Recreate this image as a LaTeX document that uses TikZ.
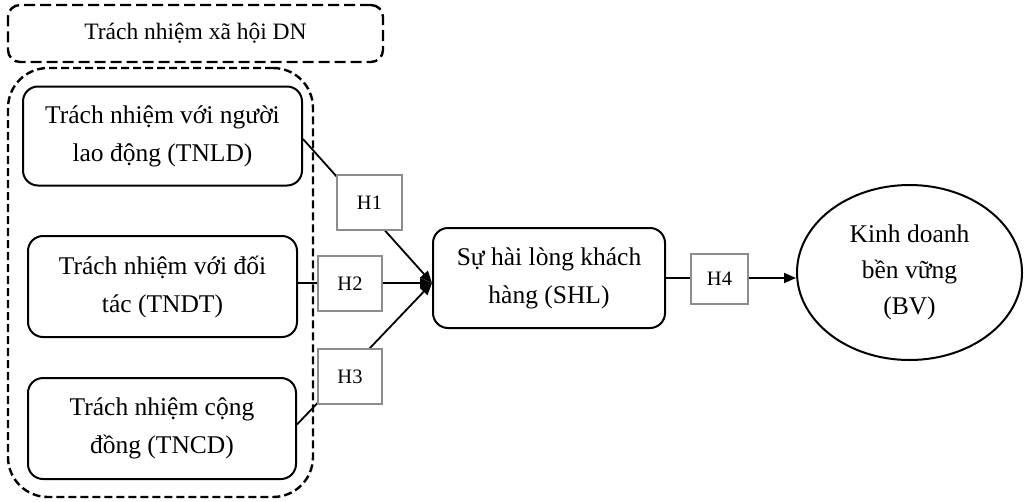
\documentclass[tikz,border=0pt]{standalone}
\usepackage{fontspec}
\setmainfont{Liberation Serif}
\usetikzlibrary{shapes.geometric,arrows.meta}
\begin{document}
\begin{tikzpicture}[x=1pt,y=-1pt,
  box/.style={draw, line width=2pt, rounded corners=15pt, align=center, inner sep=0pt,
     font=\fontsize{25.5}{38}\selectfont},
  dashbox/.style={draw, line width=2.4pt, inner sep=0pt},
  hbox/.style={draw=black!45, line width=2pt, fill=white, inner sep=0pt,
     font=\fontsize{20.5}{24}\selectfont},
  arr/.style={line width=1.8pt, -{Triangle[length=12pt,width=10pt]}}]
\useasboundingbox (0,0) rectangle (1024,501);
% group boxes
\node[dashbox, dash pattern=on 11pt off 5pt, rounded corners=12pt, minimum width=375pt, minimum height=57pt,
      font=\fontsize{23.5}{28}\selectfont] (top) at (195.5,33.5) {Trách nhiệm xã hội DN};
\node[dashbox, dash pattern=on 8pt off 4pt, rounded corners=40pt, minimum width=305pt, minimum height=429pt] (grp) at (160.5,282.5) {};
% main boxes
\node[box, minimum width=279pt, minimum height=99pt] (tnld) at (162.5,136) {Trách nhiệm với người\\lao động (TNLD)};
\node[box, minimum width=269pt, minimum height=101pt] (tndt) at (162.5,286.5) {Trách nhiệm với đối\\tác (TNDT)};
\node[box, minimum width=268pt, minimum height=101pt] (tncd) at (162,428.5) {Trách nhiệm cộng\\đồng (TNCD)};
\node[box, minimum width=232pt, minimum height=100pt] (shl) at (549,278) {Sự hài lòng khách\\hàng (SHL)};
\node[draw, ellipse, line width=2pt, minimum width=225pt, minimum height=175pt, inner sep=0pt,
      align=center, font=\fontsize{25.5}{36}\selectfont] (bv) at (909.5,272.5) {Kinh doanh\\bền vững\\(BV)};
\coordinate (in) at (432,283);
% connectors
\draw[arr] ([yshift=-3pt]tnld.east) -- (in);
\draw[arr] (tndt.east |- in) -- (in);
\draw[arr] ([yshift=4pt]tncd.east) -- (in);
\draw[arr] (shl.east) -- (bv.west |- shl.east);
% hypothesis labels
\node[hbox, minimum width=65pt, minimum height=55pt] (h1) at (369.5,202.5) {H1};
\node[hbox, minimum width=64pt, minimum height=55pt] (h2) at (350,283.5) {H2};
\node[hbox, minimum width=64pt, minimum height=55pt] (h3) at (350,376.5) {H3};
\node[hbox, minimum width=57pt, minimum height=50pt] (h4) at (719.5,279) {H4};
\end{tikzpicture}
\end{document}
